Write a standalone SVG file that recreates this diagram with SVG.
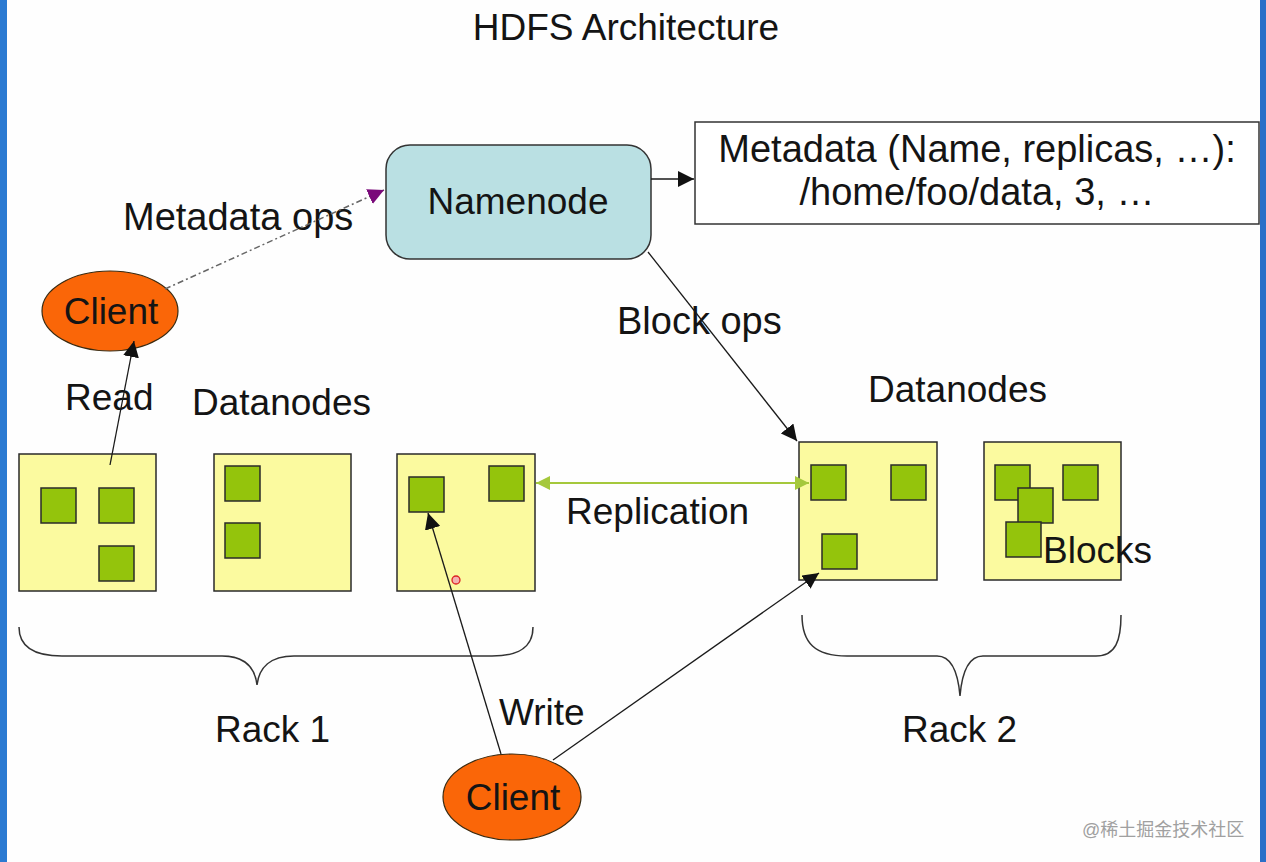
<svg xmlns="http://www.w3.org/2000/svg" width="1266" height="862" viewBox="0 0 1266 862">
<defs>
<style>
text{font-family:"Liberation Sans",Arial,sans-serif;font-size:37px;fill:#141414}
.dn{fill:#fbfa9f;stroke:#2a2a2a;stroke-width:1.5}
.blk{fill:#94c40c;stroke:#2a2a2a;stroke-width:1.5}
.cl{fill:#fa6608;stroke:#3a2a10;stroke-width:1.2}
.ln{fill:none;stroke:#1a1a1a;stroke-width:1.3}
.br{fill:none;stroke:#333;stroke-width:1.5}
</style>
<marker id="ah" viewBox="0 0 10 10" refX="10" refY="5" markerWidth="16" markerHeight="16" markerUnits="userSpaceOnUse" orient="auto"><path d="M0,0 L10,5 L0,10 z" fill="#111"/></marker>
<marker id="ahp" viewBox="0 0 10 10" refX="10" refY="5" markerWidth="16" markerHeight="16" markerUnits="userSpaceOnUse" orient="auto"><path d="M0,0 L10,5 L0,10 z" fill="#7a0a7a"/></marker>
<marker id="ahg" viewBox="0 0 10 10" refX="10" refY="5" markerWidth="14" markerHeight="14" markerUnits="userSpaceOnUse" orient="auto-start-reverse"><path d="M0,0 L10,5 L0,10 z" fill="#a5c83c"/></marker>
</defs>
<rect x="0" y="0" width="1266" height="862" fill="#fefefe"/>
<rect x="0" y="0" width="7" height="862" fill="#2b7ad2"/>
<rect x="1260" y="0" width="6" height="862" fill="#2a6fc8"/>

<text x="626" y="40" text-anchor="middle" style="font-size:37px">HDFS Architecture</text>

<g id="namenode">
<rect x="386" y="145" width="265" height="114" rx="24" fill="#bae0e3" stroke="#333" stroke-width="1.5"/>
<text x="518" y="214" text-anchor="middle">Namenode</text>
</g>

<g id="metadata">
<rect x="695" y="122" width="564" height="102" fill="#fff" stroke="#333" stroke-width="1.5"/>
<text x="977" y="162" text-anchor="middle" style="font-size:38px">Metadata (Name, replicas, …):</text>
<text x="977" y="205" text-anchor="middle" style="font-size:38px">/home/foo/data, 3, …</text>
</g>

<g id="client-read">
<ellipse class="cl" cx="110" cy="311" rx="68" ry="40"/>
<text x="111" y="324" text-anchor="middle">Client</text>
</g>

<g id="client-write">
<ellipse class="cl" cx="512" cy="797" rx="69" ry="43"/>
<text x="513" y="810" text-anchor="middle">Client</text>
</g>

<g id="labels">
<text x="123" y="230" style="font-size:38px">Metadata ops</text>
<text x="65" y="410">Read</text>
<text x="192" y="415">Datanodes</text>
<text x="868" y="402">Datanodes</text>
<text x="617" y="334" style="font-size:38px">Block ops</text>
<text x="566" y="524">Replication</text>
<text x="499" y="725">Write</text>
<text x="215" y="742">Rack 1</text>
<text x="902" y="742">Rack 2</text>
</g>

<g id="dn1">
<rect class="dn" x="19" y="454" width="137" height="137"/>
<rect class="blk" x="41" y="488" width="35" height="35"/>
<rect class="blk" x="99" y="488" width="35" height="35"/>
<rect class="blk" x="99" y="546" width="35" height="35"/>
</g>
<g id="dn2">
<rect class="dn" x="214" y="454" width="137" height="137"/>
<rect class="blk" x="225" y="466" width="35" height="35"/>
<rect class="blk" x="225" y="523" width="35" height="35"/>
</g>
<g id="dn3">
<rect class="dn" x="397" y="454" width="138" height="137"/>
<rect class="blk" x="409" y="477" width="35" height="35"/>
<rect class="blk" x="489" y="466" width="35" height="35"/>
</g>
<g id="dn4">
<rect class="dn" x="799" y="442" width="138" height="138"/>
<rect class="blk" x="811" y="465" width="35" height="35"/>
<rect class="blk" x="891" y="465" width="35" height="35"/>
<rect class="blk" x="822" y="534" width="35" height="35"/>
</g>
<g id="dn5">
<rect class="dn" x="984" y="442" width="137" height="138"/>
<rect class="blk" x="995" y="465" width="35" height="35"/>
<rect class="blk" x="1063" y="465" width="35" height="35"/>
<rect class="blk" x="1018" y="488" width="35" height="35"/>
<rect class="blk" x="1006" y="522" width="35" height="35"/>
<text x="1043" y="563">Blocks</text>
</g>

<g id="braces">
<path class="br" d="M19,627 C19,648 35,656 62,656 L222,656 C245,656 255,668 257,685 C259,668 270,656 294,656 L492,656 C518,656 533,648 533,627"/>
<path class="br" d="M802,615 C802,643 815,656 847,656 L937,656 C952,656 958,672 960,696 C962,672 968,656 983,656 L1096,656 C1116,656 1121,640 1121,615"/>
</g>

<g id="connectors">
<line class="ln" x1="651" y1="179" x2="694" y2="179" marker-end="url(#ah)"/>
<line x1="165" y1="289" x2="384" y2="190" stroke="#666" stroke-width="1.5" stroke-dasharray="6 3 2 3" marker-end="url(#ahp)"/>
<line class="ln" x1="110" y1="465" x2="134" y2="341" marker-end="url(#ah)"/>
<line class="ln" x1="648" y1="252" x2="797" y2="441" marker-end="url(#ah)"/>
<line x1="536" y1="483" x2="809" y2="483" stroke="#a5c83c" stroke-width="2" marker-start="url(#ahg)" marker-end="url(#ahg)"/>
<line class="ln" x1="501" y1="754" x2="428" y2="513" marker-end="url(#ah)"/>
<line class="ln" x1="553" y1="760" x2="819" y2="573" marker-end="url(#ah)"/>
</g>

<circle cx="456" cy="580" r="4" fill="#f3b0b0" stroke="#d22" stroke-width="1.3"/>
<text x="1082" y="836" style="fill:#a0a0a0;font-family:'Liberation Sans','Noto Sans CJK SC',sans-serif;font-size:18px">@稀土掘金技术社区</text>
</svg>
